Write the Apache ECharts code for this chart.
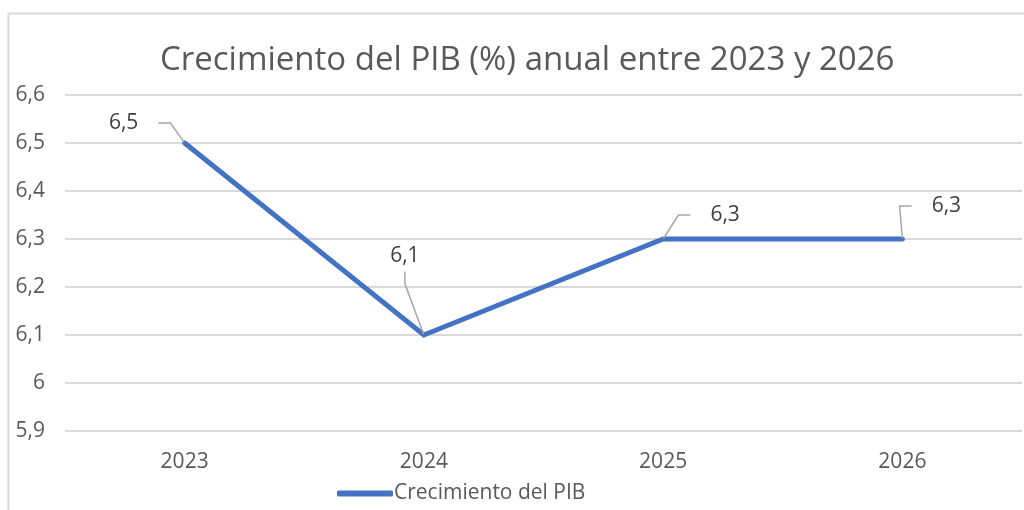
<!DOCTYPE html>
<html>
<head>
<meta charset="utf-8">
<script src="https://cdn.jsdelivr.net/npm/echarts@6/dist/echarts.min.js"></script>
<style>
  html, body { margin: 0; padding: 0; background: #fff; }
  #chart { width: 1024px; height: 510px; }
</style>
</head>
<body>
<div id="chart"></div>
<script>
var years = ["2023", "2024", "2025", "2026"];
var growth = [6.5, 6.1, 6.3, 6.3];
var seriesName = "Crecimiento del PIB";
var titleText = "Crecimiento del PIB (%) anual entre 2023 y 2026";
// label offsets (px) relative to each point, as in the original
var labelShift = [[-61, -20], [-19, -79], [62, -24], [44, -33]];

var font = "'Open Sans', sans-serif";
var grey = "#595959";

function fmt(v) { return String(v).replace(".", ","); }

var chart = echarts.init(document.getElementById("chart"));

chart.setOption({
  animation: false,
  textStyle: { fontFamily: font },
  title: {
    text: titleText,
    left: 155,
    top: 39,
    textStyle: { fontSize: 33, fontWeight: "normal", color: grey, fontFamily: font }
  },
  grid: { left: 65, right: 2, top: 95, bottom: 79 },
  legend: {
    bottom: 6,
    left: 337,
    padding: 0,
    itemWidth: 56,
    itemHeight: 6,
    itemGap: 0,
    textStyle: { fontSize: 21, color: grey, fontFamily: font, padding: [0, 0, 0, -4] },
    data: [{ name: seriesName, icon: "roundRect" }]
  },
  xAxis: {
    type: "category",
    data: years,
    boundaryGap: true,
    axisLine: { show: false },
    axisTick: { show: false },
    axisLabel: { fontSize: 21, color: grey, margin: 21 }
  },
  yAxis: {
    type: "value",
    min: 5.9,
    max: 6.6,
    interval: 0.1,
    axisLine: { show: false },
    axisTick: { show: false },
    splitLine: { lineStyle: { color: "#d9d9d9", width: 2 } },
    axisLabel: {
      fontSize: 21,
      color: grey,
      margin: 20,
      formatter: function (v) { return fmt(Math.round(v * 10) / 10); }
    }
  },
  series: [{
    name: seriesName,
    type: "line",
    data: growth,
    symbol: "circle",
    symbolSize: 1,
    showSymbol: true,
    lineStyle: { color: "#4472C4", width: 5, cap: "round", join: "miter" },
    itemStyle: { color: "#4472C4" },
    label: {
      show: true,
      position: "inside",
      fontSize: 21,
      color: "#404040",
      backgroundColor: "rgba(255,255,255,0)",
      padding: [5, 20],
      formatter: function (p) { return fmt(p.value); }
    },
    labelLayout: function (p) {
      return { dx: labelShift[p.dataIndex][0], dy: labelShift[p.dataIndex][1] };
    },
    labelLine: {
      show: true,
      length2: 12,
      lineStyle: { color: "#a6a6a6", width: 1.5 }
    }
  }],
  graphic: [{
    type: "rect",
    silent: true,
    shape: { x: 8.5, y: 13.5, width: 1030, height: 520 },
    style: { fill: null, stroke: "#d9d9d9", lineWidth: 2 }
  }]
});
</script>
</body>
</html>
